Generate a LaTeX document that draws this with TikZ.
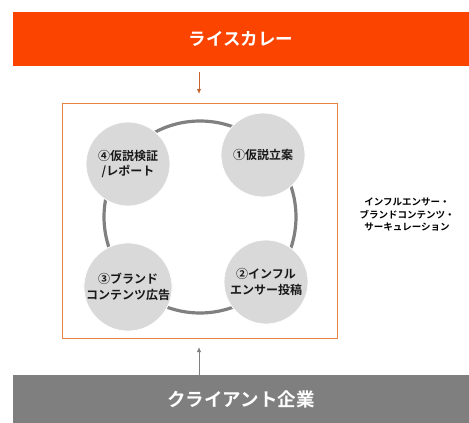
\documentclass[tikz,border=0pt]{standalone}
\usepackage{fontspec}
\setmainfont{Noto Sans CJK JP}[BoldFont={* Bold}]
\usetikzlibrary{arrows.meta}
\definecolor{barorange}{HTML}{FA4400}
\definecolor{bargray}{HTML}{7F7F7F}
\definecolor{boxorange}{HTML}{E8823F}
\definecolor{ringgray}{HTML}{808080}
\definecolor{bubble}{HTML}{D9D9D9}
\definecolor{arrorange}{HTML}{C8612A}
\tikzset{
  bar/.style={rectangle, inner sep=0pt, minimum width=456pt, text=white, font=\bfseries\fontsize{17.5}{20}\selectfont},
  bubblenode/.style={circle, fill=bubble, draw=white, line width=0.8pt, minimum size=84pt, inner sep=0pt, align=center, text=black!90, font=\bfseries\fontsize{12}{15.5}\selectfont},
  arr/.style={line width=1pt, -{Latex[length=5pt,width=4.5pt]}},
}
\begin{document}
\begin{tikzpicture}[x=1pt,y=-1pt]
\useasboundingbox[fill=white] (0,0) rectangle (469,423);
\node[bar, fill=barorange, minimum height=54pt] (top) at (241,39) {ライスカレー};
\node[bar, fill=bargray, minimum height=48pt, font=\bfseries\fontsize{18.5}{20}\selectfont] (bottom) at (241,399) {クライアント企業};
\node[draw=boxorange, line width=1pt, minimum width=275pt, minimum height=235pt, inner sep=0pt] (box) at (199.5,220.5) {};
\node[circle, draw=ringgray, line width=3.2pt, minimum size=192pt, inner sep=0pt] (ring) at (200,217) {};
\node[bubblenode] (c4) at (128,164) {④仮説検証\\/レポート};
\node[bubblenode] (c1) at (263,155) {①仮説立案};
\node[bubblenode] (c3) at (128,287) {③ブランド\\コンテンツ広告};
\node[bubblenode] (c2) at (266,282) {②インフル\\エンサー投稿};
\node[align=center, font=\bfseries\fontsize{9.5}{12.5}\selectfont, text=black] (side) at (407,215) {インフルエンサー・\\ブランドコンテンツ・\\サーキュレーション};
\coordinate (a1s) at (199,72);
\coordinate (a1e) at (199,94);
\coordinate (a2s) at (199,375);
\coordinate (a2e) at (199,347);
\draw[arr, draw=arrorange, fill=arrorange] (a1s) -- (a1e);
\draw[arr, draw=bargray, fill=bargray] (bottom.north -| a2s) -- (a2e);
\end{tikzpicture}
\end{document}
